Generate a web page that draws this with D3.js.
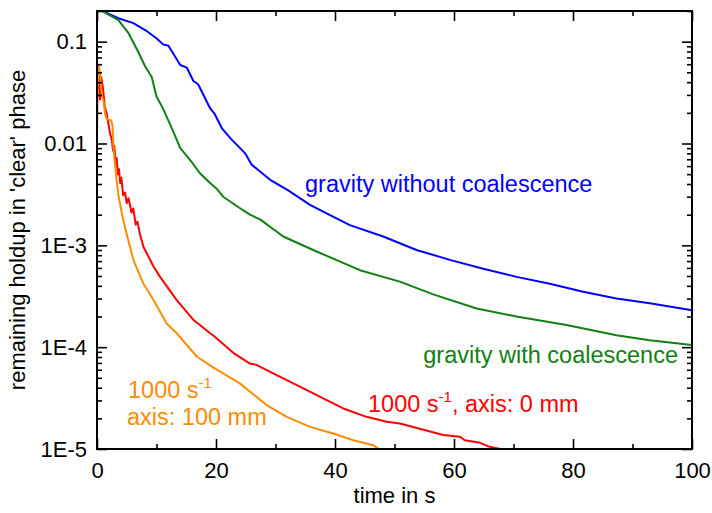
<!DOCTYPE html>
<html>
<head>
<meta charset="utf-8">
<script src="https://cdn.jsdelivr.net/npm/d3@7"></script>
<style>
  html, body { margin: 0; padding: 0; background: #fff; }
  svg { display: block; font-family: Arial, 'Liberation Sans', sans-serif; }
  .tick text { font-size: 22px; fill: #000; }
  .tick line { stroke: #000; stroke-width: 1.6; }
</style>
</head>
<body>
<svg id="chart" width="712" height="513"></svg>
<script>
// ── Data ──────────────────────────────────────────────────────────────────
const blueT = [0.5, 3.6, 6.1, 8.1, 10.0, 11.1, 12.0, 14.0, 15.1, 16.2, 17.0, 19.0, 19.8, 21.0, 22.4, 24.9, 26.0,
               29.1, 32.0, 35.8, 39.0, 42.5, 48.1, 53.7, 59.3, 64.9, 70.5, 76.1, 81.7, 87.3, 92.9, 100];
const blueV = [0.205, 0.170, 0.152, 0.130, 0.108, 0.094, 0.091, 0.059, 0.0555, 0.0411, 0.0382, 0.0222, 0.0194, 0.0141, 0.0113, 0.0080, 0.0062,
               0.0044, 0.0035, 0.0025, 0.0020, 0.00158, 0.00122, 0.00090, 0.00072, 0.00059, 0.00049, 0.00042, 0.00035, 0.00030, 0.00027, 0.00023];

const greenT = [0.5, 3.6, 5.3, 6.9, 8.1, 9.2, 10.0, 11.1, 12.6, 14.0, 15.9, 17.3, 19.0, 20.1, 21.2, 24.6, 25.7, 27.4,
                31.3, 36.9, 44.2, 50.9, 56.5, 63.8, 70.5, 78.9, 87.3, 92.9, 100];
const greenV = [0.205, 0.163, 0.121, 0.080, 0.057, 0.045, 0.029, 0.022, 0.014, 0.0090, 0.0066, 0.0051, 0.0041, 0.0036, 0.0030, 0.0022, 0.0020, 0.0018,
                0.00122, 0.00087, 0.00057, 0.00044, 0.00033, 0.00024, 0.00020, 0.000165, 0.000131, 0.000117, 0.000105];

const redT = [0, 0.1, 0.3, 0.5, 0.7, 1.0, 1.3, 1.6, 1.9, 2.2, 2.5, 2.7, 2.9, 3.1, 3.3, 3.5, 3.7, 3.9, 4.1, 4.4, 4.7,
              5.0, 5.3, 5.8, 6.1, 6.5, 6.8, 7.2, 7.8, 9.5, 10.6, 13.4, 16.2, 17.3, 19.0, 19.5, 22.9, 25.7, 26.8,
              29.6, 34.1, 38.6, 41.4, 45.3, 48.7, 50.9, 58.2, 61.0, 61.8, 64.4, 66.0, 68.2];
const redV = [0.011, 0.060, 0.050, 0.027, 0.045, 0.035, 0.023, 0.020, 0.0158, 0.0125, 0.0108, 0.0085, 0.0095, 0.0066, 0.0072, 0.0050, 0.0056, 0.0041, 0.0046, 0.0031, 0.0033,
              0.0026, 0.0029, 0.0021, 0.0023, 0.0016, 0.0017, 0.0013, 0.00097, 0.00062, 0.00049, 0.00029, 0.000185, 0.000165, 0.000137, 0.000131, 0.000088, 0.000069, 0.000067,
              0.0000553, 0.0000409, 0.0000302, 0.0000250, 0.0000207, 0.0000185, 0.0000178, 0.0000137, 0.0000132, 0.0000122, 0.0000115, 0.0000105, 0.0000099];

const orangeT = [0.1, 0.25, 0.5, 0.8, 1.1, 1.4, 1.6, 2.0, 2.4, 2.6, 2.8, 3.3, 3.6, 4.4, 6.1, 7.8, 9.5, 11.7, 13.4, 16.8,
                 19.6, 20.7, 24.0, 28.5, 31.9, 35.8, 39.7, 43.1, 46.4, 47.6];
const orangeV = [0.030, 0.058, 0.050, 0.030, 0.026, 0.019, 0.0175, 0.0170, 0.0168, 0.0150, 0.0085, 0.0044, 0.0031, 0.00177, 0.00072, 0.00042, 0.00029, 0.000171, 0.000137, 0.0000805,
                 0.000063, 0.0000575, 0.0000441, 0.0000270, 0.0000207, 0.0000165, 0.0000142, 0.0000122, 0.0000109, 0.0000098];

const xTicks      = [0, 20, 40, 60, 80, 100];
const xMinorTicks = [10, 30, 50, 70, 90];
const yTicks      = [1e-5, 1e-4, 1e-3, 0.01, 0.1];
const yTickLabels = ['1E-5', '1E-4', '1E-3', '0.01', '0.1'];

// ── Layout ────────────────────────────────────────────────────────────────
const W = 712, H = 513;
const M = { top: 11, right: 20, bottom: 64, left: 97 };
const LABEL_SIZE = 23.5;

const svg = d3.select('#chart');

const x = d3.scaleLinear().domain([0, 100]).range([M.left, W - M.right]);
const y = d3.scaleLog().domain([1e-5, 0.2]).range([H - M.bottom, M.top]);

// minor log ticks 2..9 of each decade
const yMinorTicks = [];
yTicks.forEach(d => { for (let k = 2; k <= 9; k++) if (k * d <= 0.2) yMinorTicks.push(k * d); });

svg.append('defs').append('clipPath').attr('id', 'plot-clip')
  .append('rect')
  .attr('x', M.left).attr('y', M.top)
  .attr('width', x.range()[1] - M.left).attr('height', y.range()[0] - M.top);

// ── Curves ────────────────────────────────────────────────────────────────
const series = [
  { t: blueT,   v: blueV,   color: '#0000ff' },
  { t: greenT,  v: greenV,  color: '#118011' },
  { t: redT,    v: redV,    color: '#ff0000' },
  { t: orangeT, v: orangeV, color: '#ff8c00' },
];

const line = d3.line().x(d => x(d[0])).y(d => y(d[1]));

const plot = svg.append('g').attr('clip-path', 'url(#plot-clip)');
series.forEach(s => {
  plot.append('path')
    .datum(d3.zip(s.t, s.v))
    .attr('fill', 'none')
    .attr('stroke', s.color)
    .attr('stroke-width', 2)
    .attr('stroke-linejoin', 'round')
    .attr('d', line);
});

// ── Axes (ticks inward, mirrored on top/right) ────────────────────────────
function noDomain(g) { g.select('.domain').remove(); }

const bottomY = y.range()[0], rightX = x.range()[1];

svg.append('g').attr('transform', `translate(0,${bottomY})`)
  .call(d3.axisBottom(x).tickValues(xTicks).tickSize(-10).tickPadding(13).tickFormat(d3.format('d')))
  .call(noDomain);
svg.append('g').attr('transform', `translate(0,${bottomY})`)
  .call(d3.axisBottom(x).tickValues(xMinorTicks).tickSize(-5).tickFormat(''))
  .call(noDomain);
svg.append('g').attr('transform', `translate(0,${M.top})`)
  .call(d3.axisTop(x).tickValues(xTicks).tickSize(-10).tickFormat(''))
  .call(noDomain);
svg.append('g').attr('transform', `translate(0,${M.top})`)
  .call(d3.axisTop(x).tickValues(xMinorTicks).tickSize(-5).tickFormat(''))
  .call(noDomain);

svg.append('g').attr('transform', `translate(${M.left},0)`)
  .call(d3.axisLeft(y).tickValues(yTicks).tickSize(-10).tickPadding(10)
    .tickFormat((d, i) => yTickLabels[i]))
  .call(noDomain);
svg.append('g').attr('transform', `translate(${M.left},0)`)
  .call(d3.axisLeft(y).tickValues(yMinorTicks).tickSize(-5).tickFormat(''))
  .call(noDomain);
svg.append('g').attr('transform', `translate(${rightX},0)`)
  .call(d3.axisRight(y).tickValues(yTicks).tickSize(-10).tickFormat(''))
  .call(noDomain);
svg.append('g').attr('transform', `translate(${rightX},0)`)
  .call(d3.axisRight(y).tickValues(yMinorTicks).tickSize(-5).tickFormat(''))
  .call(noDomain);

svg.selectAll('.tick text').attr('font-family', null).attr('font-size', null);

// frame
svg.append('rect')
  .attr('x', M.left).attr('y', M.top)
  .attr('width', rightX - M.left).attr('height', bottomY - M.top)
  .attr('fill', 'none').attr('stroke', '#000').attr('stroke-width', 2);

// ── Axis titles ───────────────────────────────────────────────────────────
svg.append('text')
  .attr('x', (M.left + rightX) / 2).attr('y', 503)
  .attr('text-anchor', 'middle').attr('font-size', 22)
  .text('time in s');

svg.append('text')
  .attr('transform', `translate(25,${(M.top + bottomY) / 2}) rotate(-90)`)
  .attr('text-anchor', 'middle').attr('font-size', 22)
  .text("remaining holdup in 'clear' phase");

// ── Curve labels ──────────────────────────────────────────────────────────
function label(px, py, color, parts, anchor = 'start') {
  const t = svg.append('text')
    .attr('x', px).attr('y', py)
    .attr('fill', color).attr('font-size', LABEL_SIZE)
    .attr('text-anchor', anchor);
  let raised = false;
  parts.forEach(p => {
    if (p.sup) {
      t.append('tspan').attr('dy', -10).attr('font-size', 15).text(p.sup);
      raised = true;
    } else {
      const s = t.append('tspan').text(p.txt);
      if (raised) { s.attr('dy', 10); raised = false; }
    }
  });
}

label(305, 192, '#0000ff', [{ txt: 'gravity without coalescence' }]);
label(678, 363, '#118011', [{ txt: 'gravity with coalescence' }], 'end');
label(368, 412, '#ff0000', [{ txt: '1000 s' }, { sup: '-1' }, { txt: ', axis: 0 mm' }]);
label(128, 398, '#ff8c00', [{ txt: '1000 s' }, { sup: '-1' }]);
label(127, 425, '#ff8c00', [{ txt: 'axis: 100 mm' }]);
</script>
</body>
</html>
